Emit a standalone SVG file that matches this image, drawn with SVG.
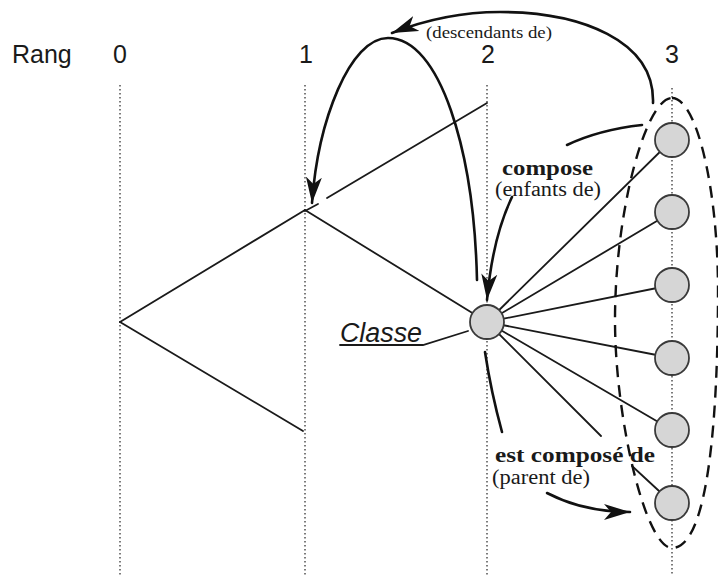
<svg xmlns="http://www.w3.org/2000/svg" width="718" height="576" viewBox="0 0 718 576">
<style>
.grid{stroke:#444;stroke-width:1.4;stroke-dasharray:1.5 2.5;fill:none}
.edge{stroke:#1a1a1a;stroke-width:1.8;fill:none;stroke-linecap:round}
.arc{stroke:#111;stroke-width:2.6;fill:none;stroke-linecap:round}
.node{fill:#d6d6d6;stroke:#3a3a3a;stroke-width:1.8}
.sans{font-family:"Liberation Sans",Arial,sans-serif;fill:#1a1a1a}
.serif{font-family:"Liberation Serif","Times New Roman",serif;fill:#1a1a1a}
.group{fill:none;stroke:#111;stroke-width:2.4;stroke-dasharray:12 8}
</style>
<defs>
<marker id="ah" markerUnits="userSpaceOnUse" markerWidth="28" markerHeight="18" refX="26" refY="9" orient="auto">
<path d="M0,1 L26,9 L0,17 L7,9 z" fill="#111"/>
</marker>
</defs>
<rect width="718" height="576" fill="#fff"/>
<g id="ranks">
<text class="sans" x="12" y="63" font-size="25">Rang</text>
<text class="sans" x="120" y="63" font-size="25" text-anchor="middle">0</text>
<text class="sans" x="306" y="63" font-size="25" text-anchor="middle">1</text>
<text class="sans" x="488" y="63" font-size="25" text-anchor="middle">2</text>
<text class="sans" x="672" y="63" font-size="25" text-anchor="middle">3</text>
<line class="grid" x1="120" y1="85" x2="120" y2="576"/>
<line class="grid" x1="305" y1="85" x2="305" y2="576"/>
<line class="grid" x1="487" y1="85" x2="487" y2="576"/>
<line class="grid" x1="672" y1="88" x2="672" y2="576"/>
</g>
<g id="connectors">
<line class="edge" x1="120" y1="322" x2="305" y2="210"/>
<line class="edge" x1="120" y1="322" x2="303" y2="431"/>
<line class="edge" x1="305" y1="211" x2="318" y2="204"/>
<line class="edge" x1="327" y1="198" x2="487" y2="103"/>
<line class="edge" x1="305" y1="210" x2="487" y2="322"/>
<line class="edge" x1="487" y1="322" x2="672" y2="140"/>
<line class="edge" x1="487" y1="322" x2="672" y2="212"/>
<line class="edge" x1="487" y1="322" x2="672" y2="285"/>
<line class="edge" x1="487" y1="322" x2="672" y2="358"/>
<line class="edge" x1="487" y1="322" x2="672" y2="430"/>
<line class="edge" x1="487" y1="322" x2="601" y2="436"/>
<line class="edge" x1="632" y1="466" x2="672" y2="503"/>
<path class="edge" d="M340,345 L423,345 L468,331"/>
<path class="arc" d="M653,103 C655,40 580,12 500,12 C460,12 425,20 392,33" marker-end="url(#ah)"/>
<path class="arc" d="M477,280 C474,150 440,38 388,38 C350,38 318,120 312,203" marker-end="url(#ah)"/>
<path class="arc" d="M642,125 C615,128 588,135 567,145"/>
<path class="arc" d="M512,197 C500,222 491,255 487,300" marker-end="url(#ah)"/>
<path class="arc" d="M485,352 C490,385 496,410 502,432"/>
<path class="arc" d="M547,493 C570,505 595,512 630,512" marker-end="url(#ah)"/>
</g>
<g id="n-classe">
<circle class="node" cx="487" cy="322" r="17"/>
<text class="sans" x="340" y="342" font-size="27" font-style="italic" textLength="82" lengthAdjust="spacingAndGlyphs">Classe</text>
</g>
<g id="n-c1"><circle class="node" cx="672" cy="140" r="17"/></g>
<g id="n-c2"><circle class="node" cx="672" cy="212" r="17"/></g>
<g id="n-c3"><circle class="node" cx="672" cy="285" r="17"/></g>
<g id="n-c4"><circle class="node" cx="672" cy="358" r="17"/></g>
<g id="n-c5"><circle class="node" cx="672" cy="430" r="17"/></g>
<g id="n-c6"><circle class="node" cx="672" cy="503" r="17"/></g>
<g id="n-group"><path class="group" d="M672,98 C697,98 718,190 718,290 C718,420 708,548 672,548 C646,548 615,420 615,320 C615,210 646,98 672,98 Z"/></g>
<g id="labels">
<text class="serif" x="426" y="38" font-size="17" textLength="126" lengthAdjust="spacingAndGlyphs">(descendants de)</text>
<text class="serif" x="502" y="175" font-size="22" font-weight="bold" textLength="91" lengthAdjust="spacingAndGlyphs">compose</text>
<text class="serif" x="495" y="196" font-size="20" textLength="106" lengthAdjust="spacingAndGlyphs">(enfants de)</text>
<text class="serif" x="495" y="462" font-size="22" font-weight="bold" textLength="160" lengthAdjust="spacingAndGlyphs">est composé de</text>
<text class="serif" x="492" y="484" font-size="20" textLength="98" lengthAdjust="spacingAndGlyphs" fill="#2a2a3a">(parent de)</text>
</g>
</svg>
